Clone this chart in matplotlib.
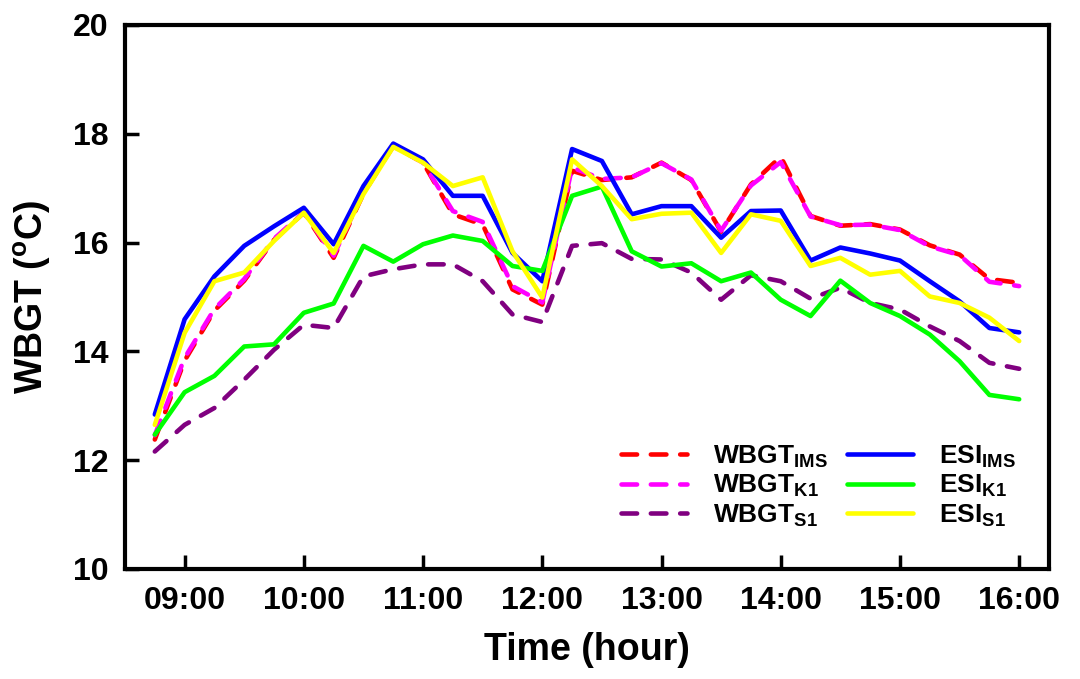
import matplotlib
matplotlib.use('Agg')
import matplotlib.pyplot as plt
import numpy as np

plt.rcParams['font.family'] = ['Liberation Sans', 'DejaVu Sans']
plt.rcParams['font.weight'] = 'bold'
plt.rcParams['mathtext.fontset'] = 'custom'
plt.rcParams['mathtext.rm'] = 'Liberation Sans'
plt.rcParams['mathtext.bf'] = 'Liberation Sans:bold'

# time of day in hours, 15-min steps from 08:45 to 16:00
hours = np.arange(8.75, 16.01, 0.25)

wbgt_ims = [12.38, 13.83, 14.75, 15.30, 16.05, 16.55, 15.72, 16.90, 17.78, 17.47,
            16.52, 16.33, 15.14, 14.86, 17.32, 17.15, 17.20, 17.47, 17.15, 16.20,
            17.07, 17.58, 16.49, 16.31, 16.34, 16.24, 15.95, 15.78, 15.33, 15.26]
wbgt_k1 = [12.46, 13.88, 14.78, 15.33, 16.07, 16.56, 15.76, 16.93, 17.77, 17.47,
           16.58, 16.38, 15.20, 14.90, 17.38, 17.17, 17.20, 17.46, 17.16, 16.22,
           17.05, 17.48, 16.48, 16.32, 16.33, 16.23, 15.93, 15.77, 15.28, 15.20]
wbgt_s1 = [12.16, 12.65, 12.96, 13.48, 14.03, 14.49, 14.43, 15.38, 15.51, 15.60,
           15.60, 15.29, 14.68, 14.54, 15.94, 15.99, 15.70, 15.69, 15.45, 14.95,
           15.40, 15.29, 14.97, 15.17, 14.89, 14.77, 14.46, 14.19, 13.79, 13.68]
esi_ims = [12.84, 14.59, 15.38, 15.94, 16.30, 16.64, 15.97, 17.04, 17.82, 17.53,
           16.86, 16.86, 15.81, 15.29, 17.72, 17.50, 16.52, 16.67, 16.67, 16.09,
           16.58, 16.59, 15.67, 15.91, 15.80, 15.67, 15.29, 14.92, 14.43, 14.35]
esi_k1 = [12.47, 13.25, 13.55, 14.09, 14.13, 14.71, 14.88, 15.94, 15.65, 15.97,
          16.13, 16.03, 15.57, 15.48, 16.86, 17.03, 15.84, 15.56, 15.62, 15.29,
          15.45, 14.95, 14.65, 15.30, 14.89, 14.65, 14.31, 13.82, 13.20, 13.12]
esi_s1 = [12.65, 14.34, 15.29, 15.45, 16.03, 16.55, 15.81, 16.89, 17.76, 17.47,
          17.04, 17.20, 15.84, 14.99, 17.53, 17.04, 16.43, 16.53, 16.55, 15.81,
          16.52, 16.40, 15.57, 15.72, 15.41, 15.48, 15.01, 14.89, 14.62, 14.19]

tick_hours = [9, 10, 11, 12, 13, 14, 15, 16]
tick_labels = ['09:00', '10:00', '11:00', '12:00', '13:00', '14:00', '15:00', '16:00']
y_ticks = [10, 12, 14, 16, 18, 20]

fig = plt.figure(figsize=(10.8, 6.79), dpi=100)
ax = fig.add_axes([125 / 1080, 1 - 569 / 679, 924 / 1080, 544 / 679])

lw = 3.3
dash = (0, (3.4, 3.0))
series = [
    (wbgt_ims, '#FF0000', dash, r'WBGT$_{\mathbf{IMS}}$'),
    (wbgt_k1, '#FF00FF', dash, r'WBGT$_{\mathbf{K1}}$'),
    (wbgt_s1, '#800080', dash, r'WBGT$_{\mathbf{S1}}$'),
    (esi_ims, '#0000FF', '-', r'ESI$_{\mathbf{IMS}}$'),
    (esi_k1, '#00FF00', '-', r'ESI$_{\mathbf{K1}}$'),
    (esi_s1, '#FFFF00', '-', r'ESI$_{\mathbf{S1}}$'),
]
for vals, col, ls, lab in series:
    ax.plot(hours, vals, color=col, linestyle=ls, linewidth=lw, label=lab,
            dash_capstyle='round', solid_capstyle='round')

ax.set_xlim(8.5, 16.25)
ax.set_ylim(10, 20)
ax.set_xticks(tick_hours)
ax.set_xticklabels(tick_labels)
ax.set_yticks(y_ticks)
ax.tick_params(direction='in', length=10, width=2.5, labelsize=23, pad=12)
for s in ax.spines.values():
    s.set_linewidth(3)

ax.set_xlabel('Time (hour)', fontsize=27, fontweight='bold', labelpad=12)
ax.set_ylabel(r'WBGT ($^{\rm o}$C)', fontsize=27, fontweight='bold', labelpad=14)

ax.legend(loc='lower right', bbox_to_anchor=(0.99, 0.03), ncol=2, frameon=False,
          fontsize=19, handlelength=2.5, handletextpad=1.0, columnspacing=0.7,
          labelspacing=0.12)

fig.savefig('out.png', dpi=100, facecolor='white')
